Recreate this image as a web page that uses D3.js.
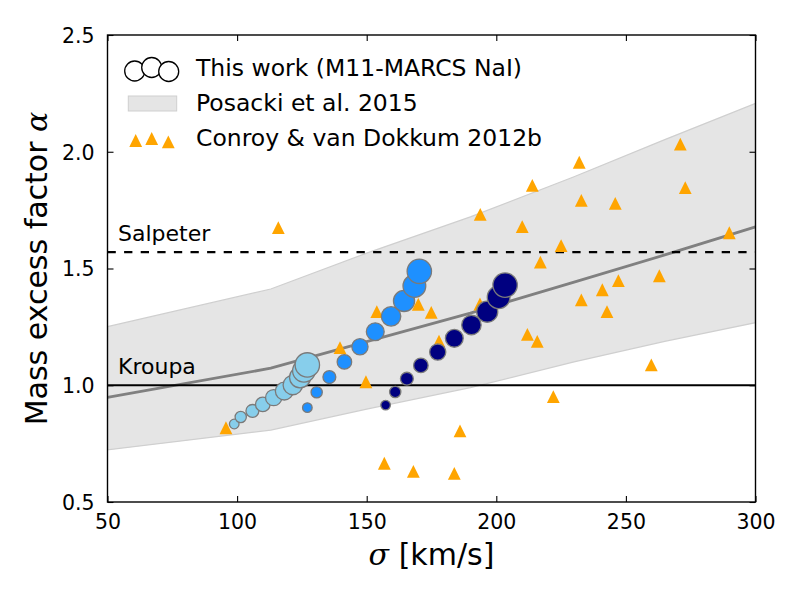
<!DOCTYPE html>
<html>
<head>
<meta charset="utf-8">
<script src="https://cdn.jsdelivr.net/npm/d3@7"></script>
<style>
  body { margin: 0; background: #fff; }
  text { font-family: "DejaVu Sans", sans-serif; fill: #000; }
</style>
</head>
<body>
<svg width="800" height="600"></svg>
<script>
// this work, three sub-samples (light, mid, dark blue)
var lightSigma = [98.9, 101.4, 105.9, 109.9, 114.1, 118.2, 121.5, 124.3, 125.8, 127.1];
var lightAlpha = [0.834, 0.864, 0.890, 0.918, 0.947, 0.975, 1.001, 1.034, 1.062, 1.087];
var midSigma = [127.1, 130.7, 135.6, 141.4, 147.4, 153.3, 159.4, 164.4, 168.4, 170.3];
var midAlpha = [0.904, 0.970, 1.035, 1.100, 1.165, 1.229, 1.295, 1.361, 1.425, 1.488];
var darkSigma = [157.3, 161.0, 165.5, 170.9, 177.4, 183.8, 190.4, 196.5, 200.9, 203.4];
var darkAlpha = [0.915, 0.971, 1.028, 1.085, 1.142, 1.201, 1.258, 1.315, 1.377, 1.429];

// Conroy & van Dokkum 2012b
var cvdSigma = [95.7, 115.9, 139.7, 149.7, 153.9, 156.8, 169.9, 174.9, 177.9, 193.7, 193.8,
  186.0, 168.0, 183.8, 210.0, 213.9, 225.0, 217.0, 212.0, 215.8, 222.0, 232.0, 232.8,
  232.8, 240.9, 242.7, 245.9, 247.1, 259.8, 262.9, 271.0, 272.9, 289.9];
var cvdAlpha = [0.818, 1.675, 1.161, 1.015, 1.315, 0.666, 1.347, 1.312, 1.189, 1.348, 1.732,
  0.805, 0.631, 0.623, 1.679, 1.856, 1.598, 1.527, 1.218, 1.188, 0.951, 1.955, 1.792,
  1.366, 1.409, 1.315, 1.779, 1.448, 1.087, 1.469, 2.033, 1.846, 1.653];

// Posacki et al. 2015 relation and its spread
var posSigma = [50, 113, 150, 190, 230, 265, 300];
var posMid = [0.948, 1.073, 1.187, 1.309, 1.442, 1.558, 1.678];
var posLow = [0.723, 0.808, 0.898, 0.990, 1.100, 1.188, 1.268];
var posHigh = [1.251, 1.412, 1.566, 1.721, 1.893, 2.052, 2.207];

var imfNames = ["Salpeter", "Kroupa"];
var imfAlpha = [1.57, 1.0];

var xTicks = [50, 100, 150, 200, 250, 300];
var yTicks = [0.5, 1.0, 1.5, 2.0, 2.5];

var legendLabels = ["This work (M11-MARCS NaI)", "Posacki et al. 2015", "Conroy & van Dokkum 2012b"];

var svg = d3.select("svg");
var L = 107.5, R = 755.5, T = 35, B = 502;

var x = d3.scaleLinear().domain([50, 300]).range([L, R]);
var y = d3.scaleLinear().domain([0.5, 2.5]).range([B, T]);
var rad = d3.scaleLinear().domain([0, 9]).range([4.8, 12.2]);

svg.append("clipPath").attr("id", "clip")
  .append("rect").attr("x", L).attr("y", T).attr("width", R - L).attr("height", B - T);

var plot = svg.append("g").attr("clip-path", "url(#clip)");

var band = posSigma.map(function (s, i) { return { s: s, lo: posLow[i], hi: posHigh[i], mid: posMid[i] }; });

plot.append("path").datum(band)
  .attr("d", d3.area().x(function (d) { return x(d.s); }).y0(function (d) { return y(d.lo); }).y1(function (d) { return y(d.hi); }))
  .style("fill", "#e5e5e5").style("stroke", "#cfcfcf").style("stroke-width", 1.2);

plot.append("path").datum(band)
  .attr("d", d3.line().x(function (d) { return x(d.s); }).y(function (d) { return y(d.mid); }))
  .style("fill", "none").style("stroke", "#808080").style("stroke-width", 2.8);

plot.selectAll("line.imf").data(imfAlpha).enter().append("line")
  .attr("class", "imf")
  .attr("x1", L).attr("x2", R)
  .attr("y1", function (d) { return y(d); }).attr("y2", function (d) { return y(d); })
  .style("stroke", "#000").style("stroke-width", 2.2)
  .style("stroke-dasharray", function (d, i) { return i == 0 ? "8.3,8.3" : null; });

svg.selectAll("text.imf").data(imfNames).enter().append("text")
  .attr("class", "imf")
  .attr("x", 118)
  .attr("y", function (d, i) { return y(imfAlpha[i]) - 11; })
  .style("font-size", "22px")
  .text(function (d) { return d; });

var tri = d3.symbol().type({
  draw: function (ctx, size) {
    var h = 6.4;
    ctx.moveTo(0, -h); ctx.lineTo(h, h); ctx.lineTo(-h, h); ctx.closePath();
  }
});

plot.selectAll("path.cvd").data(cvdSigma).enter().append("path")
  .attr("class", "cvd")
  .attr("d", tri())
  .attr("transform", function (d, i) { return "translate(" + x(d) + "," + y(cvdAlpha[i]) + ")"; })
  .style("fill", "#ffa500");

var groups = [
  { s: lightSigma, a: lightAlpha, c: "#87ceeb" },
  { s: midSigma, a: midAlpha, c: "#1e90ff" },
  { s: darkSigma, a: darkAlpha, c: "#000080" }
];
groups.forEach(function (g) {
  plot.selectAll(null).data(g.s).enter().append("circle")
    .attr("cx", function (d) { return x(d); })
    .attr("cy", function (d, i) { return y(g.a[i]); })
    .attr("r", function (d, i) { return rad(i); })
    .style("fill", g.c).style("stroke", "#7a7a7a").style("stroke-width", 1.3);
});

// axes, ticks inward on all four sides
var xa = svg.append("g").attr("transform", "translate(0," + B + ")")
  .call(d3.axisBottom(x).tickValues(xTicks).tickSize(-6).tickPadding(12.5).tickFormat(d3.format("d")));
var ya = svg.append("g").attr("transform", "translate(" + L + ",0)")
  .call(d3.axisLeft(y).tickValues(yTicks).tickSize(-6).tickPadding(13).tickFormat(d3.format(".1f")));
svg.append("g").attr("transform", "translate(0," + T + ")")
  .call(d3.axisTop(x).tickValues(xTicks).tickSize(-6).tickFormat(""));
svg.append("g").attr("transform", "translate(" + R + ",0)")
  .call(d3.axisRight(y).tickValues(yTicks).tickSize(-6).tickFormat(""));

svg.selectAll(".domain").remove();
svg.selectAll(".tick line").style("stroke", "#000").style("stroke-width", 1.1);
svg.selectAll(".tick text").style("font-family", "DejaVu Sans").style("font-size", "20.5px").style("fill", "#000");
ya.selectAll(".tick text").attr("dy", "0.36em");

svg.append("rect").attr("x", L).attr("y", T).attr("width", R - L).attr("height", B - T)
  .style("fill", "none").style("stroke", "#000").style("stroke-width", 1.4);

// axis labels
var xl = svg.append("text").attr("x", (L + R) / 2).attr("y", 565)
  .attr("text-anchor", "middle").style("font-size", "30px");
xl.append("tspan").style("font-family", "DejaVu Serif").style("font-style", "italic").text("σ");
xl.append("tspan").text(" [km/s]");

var yl = svg.append("text").attr("transform", "translate(47," + ((T + B) / 2) + ") rotate(-90)")
  .attr("text-anchor", "middle").style("font-size", "30px");
yl.append("tspan").text("Mass excess factor ");
yl.append("tspan").style("font-family", "DejaVu Serif").style("font-style", "italic").text("α");

// legend
var leg = svg.append("g");
leg.selectAll("circle").data([[134.7, 71], [151.7, 67.5], [168.7, 71.5]]).enter().append("circle")
  .attr("cx", function (d) { return d[0]; }).attr("cy", function (d) { return d[1]; }).attr("r", 10)
  .style("fill", "#fff").style("stroke", "#000").style("stroke-width", 1.3);
leg.append("rect").attr("x", 128.3).attr("y", 96).attr("width", 48.4).attr("height", 15)
  .style("fill", "#e5e5e5").style("stroke", "#cfcfcf").style("stroke-width", 1);
leg.selectAll("path").data([[135.7, 140.5], [151.7, 138.5], [168.3, 141.8]]).enter().append("path")
  .attr("d", tri()).attr("transform", function (d) { return "translate(" + d[0] + "," + d[1] + ")"; })
  .style("fill", "#ffa500");
leg.selectAll("text").data(legendLabels).enter().append("text")
  .attr("x", 196).attr("y", function (d, i) { return 76 + i * 35; })
  .style("font-size", "23.5px")
  .text(function (d) { return d; });
</script>
</body>
</html>
